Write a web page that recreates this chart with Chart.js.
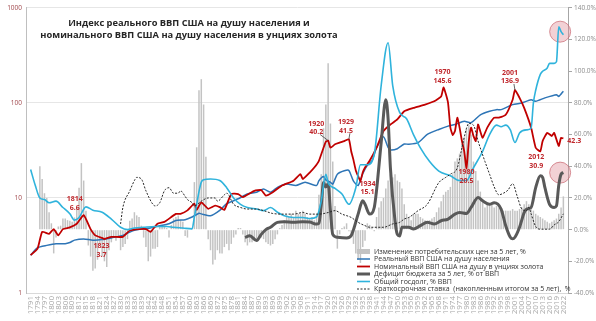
<!DOCTYPE html>
<html>
<head>
<meta charset="utf-8">
<script src="https://cdn.jsdelivr.net/npm/chart.js@4.4.1/dist/chart.umd.min.js"></script>
<style>
  body { margin: 0; background: #fff; }
</style>
</head>
<body>
<canvas id="chart" width="596" height="321"></canvas>
<script>
// year axis: 1791..2022, a label every third year
const firstYear = 1791;
const lastYear = 2022;
const tickYears = [];
for (let y = firstYear; y <= lastYear; y += 3) tickYears.push(y);

// CPI change over 5 years, %, one value per year starting 1795
const cpiStart = 1795;
const cpiValues = [
  40, 32, 23, 20, 11, 4, -15, -5, 2, 2.5,
  7, 7, 6, 5.6, 5, 7.7, 14, 26.5, 42, 31,
  12, -10, -17, -26, -24.5, -19, -9, -17, -20, -23.6,
  -13, -8, -5, -7, -5, -13, -11, -9, -6, 5.6,
  7, 11, 9, 8, 2.5, -5, -11, -20, -17, -12,
  -12, -11, 2.5, 2.5, 2, 1, -5, 3, 7, 8,
  9, 6, 5, -4, -5, 0, 1, 30, 52, 88,
  95, 79, 46, -6, -13, -22, -19, -13, -15, -15,
  -11, -9, -13, -9, -5, -3, 1, 1, -3, -8,
  -10, -8, -8, -6, -7, -6, -5, -6, -8, -9,
  -10, -9, -6, -3, 1, 3, 6, 9, 8, 10,
  8, 12, 10, 10, 12, 10, 8, 7, 8, 6,
  10, 22, 35, 64, 79, 105, 67, 43, 15, -12,
  -3, 1, 2, 4, -1, -3, -9, -15, -19, -21,
  -11, -7, 4, 3, 1, -1, 8, 14, 18, 20,
  26, 31, 35, 33, 35, 31, 30, 26, 16, 10,
  8, 6, 10, 10, 10, 8, 7, 6, 5, 6,
  7, 8, 11, 14, 18, 22, 24, 25, 27, 35,
  43, 45, 48, 54, 58, 64, 66, 60, 43, 37,
  31, 24, 18, 14, 16, 16, 16, 14, 15, 14,
  13, 12, 12, 12, 12, 13, 12, 12, 13, 14,
  16, 18, 16, 14, 12, 10, 9, 8, 7, 6,
  5, 4, 5, 6, 7, 10, 14, 21
];

// real GDP per capita (left, log)
const realYears = [1791, 1794, 1798, 1802, 1806, 1808, 1810, 1814, 1818, 1822, 1826, 1831, 1835, 1839, 1842, 1846, 1851, 1854, 1858, 1861, 1864, 1865, 1869, 1873, 1876, 1881, 1885, 1889, 1892, 1895, 1898, 1902, 1906, 1910, 1915, 1916, 1918, 1919, 1921, 1922, 1924, 1927, 1929, 1931, 1933, 1935, 1937, 1939, 1941, 1944, 1946, 1947, 1950, 1953, 1955, 1959, 1963, 1968, 1972, 1975, 1979, 1982, 1986, 1990, 1993, 1995, 2000, 2004, 2008, 2010, 2014, 2019, 2020, 2022];
const realValues = [2.5, 3.0, 3.17, 3.3, 3.3, 3.4, 3.6, 3.7, 3.6, 3.65, 3.8, 4.04, 4.48, 4.7, 4.8, 5.05, 5.35, 5.8, 5.9, 6.3, 6.9, 6.8, 6.5, 7.4, 8.7, 9.8, 11, 11.5, 12.4, 11.5, 12.9, 14, 13.5, 14.6, 13.5, 15.2, 16.8, 15.5, 14.6, 14, 17.8, 19.3, 19.5, 15, 13.5, 18, 22, 24.6, 33.8, 44, 34, 32, 33, 37, 36.7, 38.2, 46.6, 52.6, 57, 59.3, 64, 62, 75, 81.8, 85, 85, 96, 100, 108, 104, 113, 122, 117, 133];

// nominal GDP per capita in ounces of gold (left, log)
const goldYears = [1791, 1794, 1796, 1799, 1801, 1803, 1805, 1808, 1811, 1814, 1817, 1819, 1822, 1823, 1826, 1831, 1834, 1838, 1841, 1843, 1846, 1849, 1854, 1856, 1859, 1862, 1863, 1865, 1868, 1871, 1873, 1875, 1878, 1881, 1883, 1888, 1891, 1893, 1896, 1900, 1905, 1908, 1909, 1912, 1914, 1916, 1918, 1919, 1920, 1921, 1923, 1925, 1927, 1929, 1930, 1931, 1932, 1933, 1934, 1935, 1936, 1938, 1941, 1944, 1947, 1950, 1953, 1957, 1962, 1966, 1969, 1970, 1971, 1972, 1973, 1974, 1975, 1976, 1977, 1978, 1979, 1980, 1981, 1982, 1983, 1984, 1985, 1986, 1987, 1989, 1992, 1994, 1997, 2000, 2001, 2003, 2005, 2008, 2010, 2012, 2013, 2015, 2017, 2018, 2020, 2021, 2022];
const goldValues = [2.5, 2.93, 4.4, 4.2, 4.7, 4.04, 4.7, 4.9, 5.35, 6.6, 4.7, 4.04, 3.8, 3.7, 3.9, 3.9, 4.55, 4.7, 4.7, 4.4, 5.35, 5.6, 6.8, 6.8, 7.4, 8.7, 7.5, 9.0, 7.7, 8.3, 8, 7.5, 11, 11, 10.2, 11.9, 12.1, 10.6, 11.5, 13.5, 15.2, 17.8, 15.8, 18.5, 20.9, 24.6, 33.8, 39, 40.2, 33.8, 36.7, 38.2, 39.7, 41.5, 31, 25, 19.5, 17, 15.1, 18.5, 20.9, 24.6, 33.8, 50.6, 59.3, 67, 81.8, 88.6, 96, 104, 117, 145.6, 125, 100, 55, 46, 50.6, 70, 55, 40, 31, 20.5, 39.7, 55, 45, 39.7, 59.3, 50, 43, 55, 70, 70, 75, 108, 136.9, 113, 88.6, 55, 33.8, 30.9, 39.7, 48.4, 44.9, 48.4, 35.3, 43, 42.3];

// budget deficit over 5 years, % of GDP (right)
const deficitYears = [1884, 1886, 1889, 1891, 1893, 1895, 1898, 1901, 1905, 1909, 1912, 1915, 1916, 1917, 1918, 1919, 1920, 1921, 1922, 1924, 1928, 1930, 1931, 1933, 1935, 1936, 1938, 1940, 1941, 1943, 1945, 1946, 1947, 1949, 1950, 1951, 1952, 1955, 1957, 1960, 1963, 1966, 1969, 1972, 1975, 1977, 1980, 1982, 1985, 1987, 1990, 1992, 1995, 1997, 1999, 2000, 2001, 2003, 2005, 2006, 2008, 2010, 2012, 2013, 2014, 2016, 2018, 2019, 2020, 2021, 2022];
const deficitValues = [-5, -3.8, -6.9, -3, 0, 1.5, 4.6, 5, 4.6, 5, 4.8, 3.5, 4, 15, 29.7, 27, 29, 12, -3, -4.8, -5.2, -3.8, 0, 9.8, 18.2, 16, 9.8, 14, 25, 55, 82, 70, 39, 5.6, -3, -4, 1.5, 1.5, 0.4, 2.5, 4.6, 3.6, 5.6, 6.7, 9.8, 10.8, 10.2, 14, 20.3, 18.2, 16, 17, 13, 2.5, -4.8, -5.8, -4.8, 1.5, 10.8, 13, 14, 26.5, 34, 33, 26.5, 16, 14, 15, 28, 35, 36];

// total public debt, % of GDP (right)
const debtYears = [1791, 1793, 1795, 1797, 1799, 1802, 1805, 1808, 1810, 1812, 1815, 1818, 1822, 1826, 1830, 1833, 1836, 1840, 1845, 1850, 1853, 1857, 1861, 1862, 1863, 1864, 1865, 1866, 1869, 1873, 1876, 1879, 1882, 1885, 1889, 1892, 1895, 1898, 1901, 1905, 1909, 1912, 1915, 1917, 1919, 1920, 1923, 1926, 1929, 1932, 1934, 1937, 1940, 1943, 1946, 1948, 1951, 1954, 1957, 1960, 1964, 1968, 1973, 1977, 1980, 1983, 1987, 1990, 1993, 1995, 1997, 1999, 2001, 2003, 2006, 2008, 2009, 2010, 2012, 2013, 2015, 2016, 2018, 2019, 2020, 2021, 2022];
const debtValues = [38, 28, 20, 19, 17, 18, 14, 10, 6, 7.7, 14.4, 12.3, 11, 6.7, 1.5, 0, 1, 1.5, 2, 2, 1.5, 1, 0.5, 8, 16, 24, 30, 31.5, 32, 31, 26.5, 20, 16, 14, 13, 12, 14, 11, 8.8, 7.7, 7.7, 7, 8, 18, 35, 29.5, 26, 22.5, 16, 26.5, 41, 41, 47.6, 91, 118, 91, 74, 70, 60, 51.6, 43, 37, 34, 31, 31, 39, 49.5, 60, 66, 65, 66, 63, 55, 61, 63, 64, 80, 88, 98, 100, 102, 105, 105, 106, 128, 125, 123];

// short-term rate, cumulative over 5 years, % (right)
const rateYears = [1830, 1831, 1834, 1836, 1837, 1839, 1841, 1844, 1845, 1847, 1849, 1851, 1853, 1855, 1856, 1858, 1859, 1861, 1862, 1865, 1868, 1871, 1872, 1875, 1876, 1879, 1882, 1885, 1889, 1892, 1896, 1901, 1905, 1909, 1912, 1916, 1920, 1923, 1926, 1930, 1933, 1936, 1938, 1944, 1948, 1951, 1953, 1955, 1959, 1963, 1968, 1971, 1973, 1976, 1978, 1980, 1981, 1983, 1985, 1988, 1990, 1992, 1994, 1996, 1998, 2000, 2002, 2004, 2006, 2007, 2008, 2010, 2012, 2016, 2018, 2020, 2022];
const rateValues = [3.6, 14, 24.5, 31, 33, 32, 24.5, 16, 15, 17, 24.5, 26.5, 23, 23, 24.5, 21, 19, 17, 15, 18, 20, 20, 18, 22, 23, 16, 14, 13, 13, 12, 10.2, 9.8, 9.8, 10.8, 9.8, 9.8, 10.8, 12, 9.8, 7.7, 4.6, 2.5, 1.5, 1.5, 3.6, 4.6, 6.7, 7.7, 12, 16, 29.7, 33, 35, 39, 51.6, 64, 67, 66, 56, 43, 35, 27, 22, 23, 25, 29, 21, 13, 12, 14, 10, 2, 0.3, 0.3, 3, 5, 10];

// red callouts on the gold series
const noteYears = [1814, 1823, 1920, 1929, 1934, 1970, 1980, 2001, 2012];
const noteValues = [6.6, 3.7, 40.2, 41.5, 15.1, 145.6, 20.5, 136.9, 30.9];
const noteShift = [[-9, -16], [-3, 7], [-12, -17], [-3, -17], [7, 3], [-1, -15], [0, 4], [-5, -17], [-4, 6]];
const noteLeader = [false, false, true, true, false, false, false, true, false];

// highlighted points (pink circles), right axis
const ringYears = [2020.6, 2020.6];
const ringValues = [125, 36];

const legendLabels = [
  'Изменение потребительских цен за 5 лет, %',
  'Реальный ВВП США на душу населения',
  'Номинальный ВВП США на душу в унциях золота',
  'Дефицит бюджета за 5 лет, % от ВВП',
  'Общий госдолг, % ВВП',
  'Краткосрочная ставка  (накопленным итогом за 5 лет),  %'
];

const toPoints = (xs, ys) => xs.map((x, i) => ({ x: x, y: ys[i] }));
const cpiPoints = cpiValues.map((v, i) => ({ x: cpiStart + i, y: v }));

const FONT = '"Open Sans", "Liberation Sans", sans-serif';

const overlay = {
  id: 'overlay',
  beforeDatasetsDraw(chart) {
    const ctx = chart.ctx, xs = chart.scales.x, yr = chart.scales.y2;
    ctx.save();
    ringValues.forEach((v, i) => {
      ctx.beginPath();
      ctx.arc(xs.getPixelForValue(ringYears[i]), yr.getPixelForValue(v), 10.5, 0, Math.PI * 2);
      ctx.fillStyle = 'rgba(222, 140, 150, 0.4)';
      ctx.fill();
      ctx.strokeStyle = 'rgba(200, 100, 110, 0.7)';
      ctx.lineWidth = 1;
      ctx.stroke();
    });
    ctx.restore();
  },
  afterDraw(chart) {
    const ctx = chart.ctx, xs = chart.scales.x, yl = chart.scales.y;
    ctx.save();

    // title
    ctx.fillStyle = '#262626';
    ctx.font = 'bold 9.3px ' + FONT;
    ctx.textAlign = 'center';
    ctx.textBaseline = 'middle';
    ctx.fillText('Индекс реального ВВП США на душу населения и', 189, 23);
    ctx.fillText('номинального ВВП США на душу населения в унциях золота', 189, 35);

    // callouts
    ctx.font = 'bold 7px ' + FONT;
    noteYears.forEach((yr, i) => {
      const px = xs.getPixelForValue(yr), py = yl.getPixelForValue(noteValues[i]);
      const lx = px + noteShift[i][0], ly = py + noteShift[i][1];
      if (noteLeader[i]) {
        ctx.strokeStyle = '#404040';
        ctx.lineWidth = 0.8;
        ctx.beginPath();
        ctx.moveTo(lx + 4, ly + 11);
        ctx.lineTo(px, py);
        ctx.stroke();
      }
      ctx.fillStyle = '#c0282d';
      ctx.fillText(String(yr), lx, ly);
      ctx.fillText(noteValues[i].toFixed(1), lx, ly + 8.5);
    });
    const endVal = goldValues[goldValues.length - 1];
    ctx.textAlign = 'left';
    ctx.fillText(endVal.toFixed(1), xs.getPixelForValue(lastYear) + 4, yl.getPixelForValue(endVal) + 3);

    // legend
    const ds = chart.data.datasets;
    const lx0 = 357, tx = 374;
    ctx.font = '7px ' + FONT;
    legendLabels.forEach((txt, i) => {
      const y = 251.5 + i * 7.5;
      const d = ds[i];
      if (d.type === 'bar') {
        ctx.fillStyle = d.backgroundColor;
        ctx.fillRect(lx0, y - 2.5, 13, 5);
      } else {
        ctx.strokeStyle = d.borderColor;
        ctx.lineWidth = d.borderWidth;
        ctx.setLineDash(d.borderDash || []);
        ctx.beginPath();
        ctx.moveTo(lx0, y);
        ctx.lineTo(lx0 + 13, y);
        ctx.stroke();
        ctx.setLineDash([]);
      }
      ctx.fillStyle = '#333';
      ctx.textBaseline = 'middle';
      ctx.fillText(txt, tx, y);
    });
    ctx.restore();
  }
};

new Chart(document.getElementById('chart'), {
  data: {
    datasets: [
      { type: 'bar', label: legendLabels[0], data: cpiPoints, yAxisID: 'y2',
        backgroundColor: '#c3c3c3', categoryPercentage: 1, barPercentage: 0.65, grouped: false, order: 5 },
      { type: 'line', label: legendLabels[1], data: toPoints(realYears, realValues), yAxisID: 'y',
        borderColor: '#2e75b6', borderWidth: 1.5, pointRadius: 0, tension: 0.2, order: 4 },
      { type: 'line', label: legendLabels[2], data: toPoints(goldYears, goldValues), yAxisID: 'y',
        borderColor: '#c00000', borderWidth: 1.8, pointRadius: 0, tension: 0.15, order: 3 },
      { type: 'line', label: legendLabels[3], data: toPoints(deficitYears, deficitValues), yAxisID: 'y2',
        borderColor: '#595959', borderWidth: 3, pointRadius: 0, cubicInterpolationMode: 'monotone', order: 2 },
      { type: 'line', label: legendLabels[4], data: toPoints(debtYears, debtValues), yAxisID: 'y2',
        borderColor: '#2fb3dc', borderWidth: 1.6, pointRadius: 0, cubicInterpolationMode: 'monotone', order: 1 },
      { type: 'line', label: legendLabels[5], data: toPoints(rateYears, rateValues), yAxisID: 'y2',
        borderColor: '#262626', borderWidth: 1, borderDash: [2, 1.5], pointRadius: 0, cubicInterpolationMode: 'monotone', order: 0 }
    ]
  },
  options: {
    responsive: false,
    animation: false,
    devicePixelRatio: 1,
    layout: { padding: { top: 6, left: 0, right: 0, bottom: 0 } },
    plugins: { legend: { display: false }, tooltip: { enabled: false } },
    scales: {
      x: {
        type: 'linear',
        min: firstYear - 0.5,
        max: lastYear + 0.5,
        afterBuildTicks: (s) => { s.ticks = tickYears.map(v => ({ value: v })); },
        afterFit: (s) => { s.height = 28; },
        grid: { display: false, drawTicks: false },
        border: { color: '#d9d9d9' },
        ticks: {
          autoSkip: false, minRotation: 90, maxRotation: 90, padding: 3,
          color: '#a6a6a6', font: { size: 8, family: FONT },
          callback: (v) => String(v)
        }
      },
      y: {
        type: 'logarithmic',
        position: 'left',
        min: 1,
        max: 1000,
        afterBuildTicks: (s) => { s.ticks = [1, 10, 100, 1000].map(v => ({ value: v })); },
        afterFit: (s) => { s.width = 26; },
        grid: { color: '#e6e6e6', drawTicks: false },
        border: { color: '#bfbfbf' },
        ticks: { padding: 4, color: '#a0464b', font: { size: 6.5, family: FONT }, callback: (v) => String(v) }
      },
      y2: {
        type: 'linear',
        position: 'right',
        min: -40,
        max: 140,
        afterFit: (s) => { s.width = 28; },
        grid: { drawOnChartArea: false, drawTicks: true, tickLength: 4, color: '#a6a6a6' },
        border: { color: '#a6a6a6' },
        ticks: { stepSize: 20, padding: 2, color: '#8c8c8c', font: { size: 6.5, family: FONT },
          callback: (v) => v.toFixed(1) + '%' }
      }
    }
  },
  plugins: [overlay]
});
</script>
</body>
</html>
